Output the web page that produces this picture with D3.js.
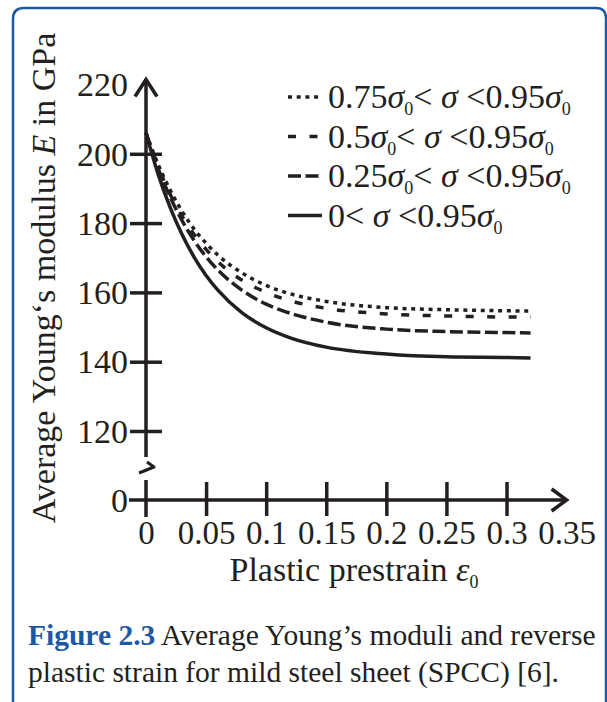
<!DOCTYPE html>
<html lang="en">
<head>
<meta charset="UTF-8">
<title>Average Young's modulus</title>
<script src="https://cdn.jsdelivr.net/npm/d3@7"></script>
<style>
    body { margin: 0; background: white; }
    svg text { font-family: 'Liberation Serif', 'Times New Roman', serif; fill: #231f20; }
</style>
</head>
<body>
<div id="chart"></div>
<script>
    // values
    const strain = [0, 0.01, 0.02, 0.03, 0.04, 0.05, 0.06, 0.08, 0.10, 0.12, 0.15, 0.20, 0.25, 0.30, 0.32];
    const e075 = [206, 197.0, 189.6, 183.4, 178.3, 174.2, 170.7, 165.6, 162.0, 159.6, 157.4, 155.6, 155.0, 154.7, 154.6];
    const e050 = [206, 196.4, 188.4, 182.0, 176.7, 172.4, 168.8, 163.5, 160.0, 157.6, 155.4, 153.8, 153.2, 152.9, 152.9];
    const e025 = [206, 195.9, 187.6, 180.7, 175.0, 170.3, 166.4, 160.6, 156.6, 154.0, 151.4, 149.4, 148.7, 148.4, 148.3];
    const e000 = [206, 194.2, 184.6, 176.7, 170.2, 164.9, 160.6, 154.1, 149.8, 146.9, 144.2, 142.2, 141.4, 141.2, 141.1];

    const xTicks = [0, 0.05, 0.1, 0.15, 0.2, 0.25, 0.3, 0.35];
    const xTickLabels = ["0", "0.05", "0.1", "0.15", "0.2", "0.25", "0.3", "0.35"];
    const yTicks = [0, 120, 140, 160, 180, 200, 220];
    const yTickLabels = ["0", "120", "140", "160", "180", "200", "220"];
    const legendLow = ["0.75", "0.5", "0.25", "0"];

    const width = 607, height = 702;
    const ink = "#231f20";
    const blue = "#1d58a3";

    const svg = d3.select("#chart").append("svg")
        .attr("width", width)
        .attr("height", height);

    // frame
    svg.append("path")
        .attr("d", "M13,710 L13,19 Q13,8 24,8 L596,8 Q606,8 606,18 L606,710")
        .attr("fill", "none")
        .attr("stroke", blue)
        .attr("stroke-width", 2.5);

    // broken y scale: 0 squeezed under 120
    const x = d3.scaleLinear().domain([0, 0.35]).range([146, 566.6]);
    const y = d3.scaleLinear().domain([0, 120, 220]).range([500, 431, 84.5]);

    // x axis
    const xAxis = svg.append("g")
        .attr("transform", `translate(0,${y(0)})`)
        .call(d3.axisBottom(x).tickValues(xTicks).tickFormat((d, i) => xTickLabels[i]).tickSize(0).tickPadding(21));
    xAxis.select(".domain").remove();
    xAxis.selectAll(".tick text").attr("font-size", 33).attr("fill", ink);
    xAxis.selectAll(".tick").filter(d => d > 0 && d < 0.34).append("line")
        .attr("y1", -18).attr("y2", 16)
        .attr("stroke", ink).attr("stroke-width", 3.5);
    xAxis.append("line")
        .attr("x1", 129).attr("x2", x(0.35) - 2)
        .attr("stroke", ink).attr("stroke-width", 3.5);
    xAxis.append("path")
        .attr("d", `M${x(0.35) - 15},-11 L${x(0.35)},0 L${x(0.35) - 15},11`)
        .attr("fill", "none").attr("stroke", ink).attr("stroke-width", 3.5);

    // y axis
    const yAxis = svg.append("g")
        .attr("transform", `translate(${x(0)},0)`)
        .call(d3.axisLeft(y).tickValues(yTicks).tickFormat((d, i) => yTickLabels[i]).tickSize(0).tickPadding(18));
    yAxis.select(".domain").remove();
    yAxis.selectAll(".tick text").attr("font-size", 34).attr("fill", ink).attr("dy", "0.33em");
    yAxis.selectAll(".tick").filter(d => d > 0 && d < 220).append("line")
        .attr("x1", -16).attr("x2", 16)
        .attr("stroke", ink).attr("stroke-width", 3.5);
    yAxis.append("line")
        .attr("y1", y(0) + 17).attr("y2", y(0) - 20)
        .attr("stroke", ink).attr("stroke-width", 3.5);
    yAxis.append("line")
        .attr("y1", y(120) + 26).attr("y2", y(220) - 5)
        .attr("stroke", ink).attr("stroke-width", 3.5);
    yAxis.append("path")
        .attr("d", `M-11,${y(220) + 12} L0,${y(220) - 5} L11,${y(220) + 12}`)
        .attr("fill", "none").attr("stroke", ink).attr("stroke-width", 3.5);
    // axis break mark
    yAxis.append("path")
        .attr("d", `M-7,${y(0) - 27} L8,${y(0) - 33} L1,${y(0) - 38}`)
        .attr("fill", "none").attr("stroke", ink).attr("stroke-width", 3).attr("stroke-linejoin", "round");

    // curves
    const series = [
        { values: e075, dash: "4,4.7" },
        { values: e050, dash: "8,13.5" },
        { values: e025, dash: "13,4.5" },
        { values: e000, dash: null }
    ];
    const line = d3.line()
        .x((d, i) => x(strain[i]))
        .y(d => y(d))
        .curve(d3.curveMonotoneX);

    svg.selectAll(".curve")
        .data(series)
        .enter()
        .append("path")
        .attr("class", "curve")
        .attr("d", d => line(d.values))
        .attr("fill", "none")
        .attr("stroke", ink)
        .attr("stroke-width", 3.5)
        .attr("stroke-dasharray", d => d.dash);

    // legend
    const legend = svg.append("g").attr("transform", "translate(288,97)");
    const rows = legend.selectAll("g")
        .data(series)
        .enter()
        .append("g")
        .attr("transform", (d, i) => `translate(0,${i * 39.5})`);
    rows.append("line")
        .attr("x1", 0).attr("x2", d => d.dash ? 32 : 34)
        .attr("stroke", ink).attr("stroke-width", 3.5)
        .attr("stroke-dasharray", d => d.dash);
    const lt = rows.append("text")
        .attr("x", 40).attr("y", 11)
        .attr("font-size", 34);
    lt.each(function (d, i) {
        const t = d3.select(this);
        t.append("tspan").text(legendLow[i]);
        if (i < 3) {
            t.append("tspan").attr("font-style", "italic").text("σ");
            t.append("tspan").attr("font-size", 18).attr("dy", 7).text("0");
            t.append("tspan").attr("dy", -7).text("<");
        } else {
            t.append("tspan").text("<");
        }
        t.append("tspan").attr("font-style", "italic").text(" σ");
        t.append("tspan").text(" <0.95");
        t.append("tspan").attr("font-style", "italic").text("σ");
        t.append("tspan").attr("font-size", 18).attr("dy", 7).text("0");
    });

    // axis titles
    const yTitle = svg.append("text")
        .attr("transform", "translate(55,278) rotate(-90)")
        .attr("text-anchor", "middle")
        .attr("font-size", 34);
    yTitle.append("tspan").text("Average Young‘s modulus ");
    yTitle.append("tspan").attr("font-style", "italic").text("E");
    yTitle.append("tspan").text(" in GPa");

    const xTitle = svg.append("text")
        .attr("x", 354).attr("y", 581)
        .attr("text-anchor", "middle")
        .attr("font-size", 34);
    xTitle.append("tspan").text("Plastic prestrain ");
    xTitle.append("tspan").attr("font-style", "italic").text("ε");
    xTitle.append("tspan").attr("font-size", 18).attr("dy", 7).text("0");

    // caption
    const cap1 = svg.append("text").attr("x", 28).attr("y", 645).attr("font-size", 29.5);
    cap1.append("tspan").attr("font-weight", "bold").style("fill", blue).text("Figure 2.3");
    cap1.append("tspan").text(" Average Young’s moduli and reverse");
    svg.append("text").attr("x", 28).attr("y", 682).attr("font-size", 29.5)
        .text("plastic strain for mild steel sheet (SPCC) [6].");
</script>
</body>
</html>
